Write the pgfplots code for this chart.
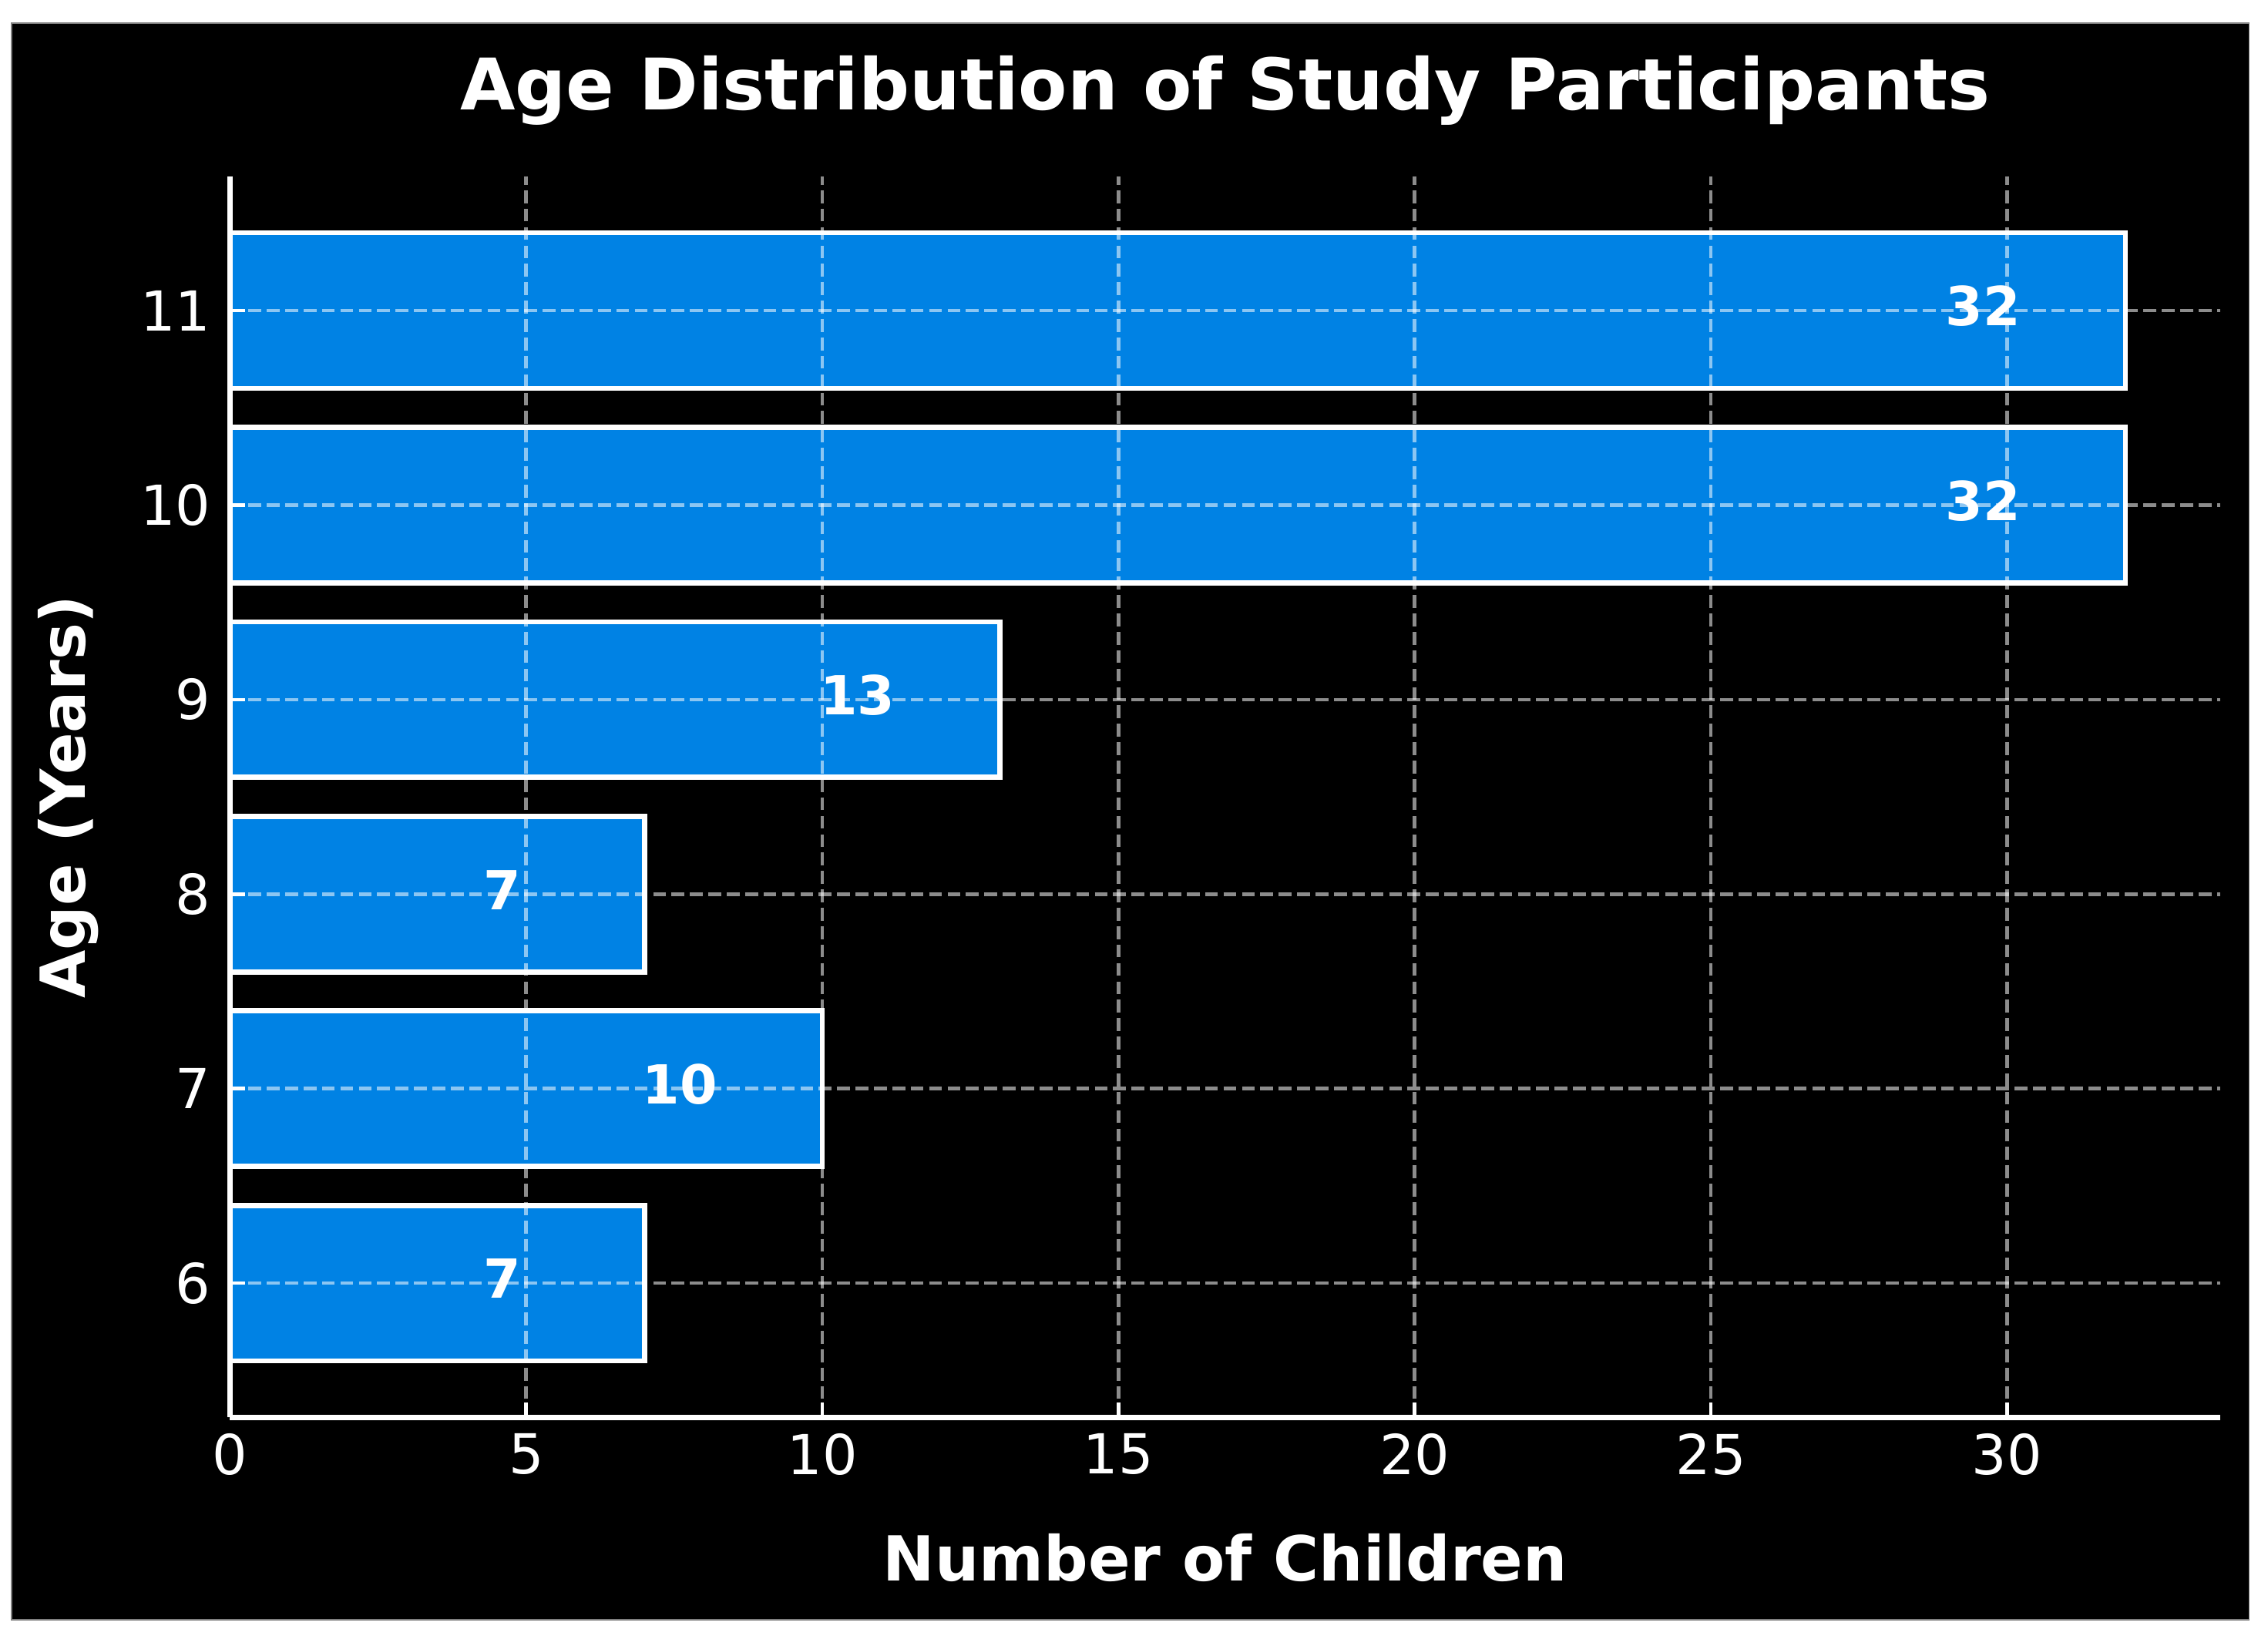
\documentclass[border=0pt]{standalone}
\usepackage{fontspec}
\setmainfont{DejaVu Sans}
\usepackage{pgfplots}
\pgfplotsset{compat=1.18}
\definecolor{barblue}{RGB}{0,130,228}
\begin{document}
\begin{tikzpicture}
% page and dark panel
\path[use as bounding box, fill=white] (0,0) rectangle (522.67pt,379.33pt);
\filldraw[fill=black, draw=gray, line width=0.3pt] (2.67pt,6pt) rectangle (518.3pt,374pt);
\begin{axis}[
  at={(53pt,52.67pt)}, anchor=south west,
  width=458.67pt, height=286pt, scale only axis,
  xbar, bar width=0.8,
  xmin=0, xmax=33.6, ymin=5.31, ymax=11.69,
  xtick={0,5,...,30}, ytick={6,7,...,11},
  axis lines*=left,
  axis line style={white, line width=1.2pt},
  tick align=inside, major tick length=3.5pt,
  tick style={white, line width=0.8pt},
  grid=major,
  major grid style={white, opacity=0.55, line width=0.8pt, dash pattern=on 2.96pt off 1.28pt},
  axis on top,
  /pgf/number format/assume math mode=true,
  ticklabel style={text=white, font=\fontsize{12.7}{15}\selectfont, inner sep=0pt},
  xticklabel style={yshift=-3.6pt},
  yticklabel style={xshift=-4.3pt},
  every axis title shift=0pt,
  title={Age Distribution of Study Participants},
  title style={at={(axis description cs:0.5,1.0535)}, anchor=base, inner sep=0pt,
    text=white, font=\bfseries\fontsize{16.4}{19}\selectfont},
  xlabel={Number of Children},
  xlabel style={at={(axis description cs:0.5,-0.1318)}, anchor=base, inner sep=0pt,
    text=white, font=\bfseries\fontsize{14.3}{17}\selectfont},
  ylabel={Age (Years)},
  ylabel style={at={(axis description cs:-0.0726,0.5)}, anchor=base, inner sep=0pt,
    text=white, font=\bfseries\fontsize{14.3}{17}\selectfont},
  point meta=x,
  nodes near coords={\pgfmathprintnumber[assume math mode=true]{\pgfplotspointmeta}},
  every node near coord/.append style={anchor=center, xshift=-32.8pt, yshift=1pt,
    text=white, font=\bfseries\fontsize{12.4}{15}\selectfont},
]
\addplot[fill=barblue, draw=white, line width=1.2pt] coordinates {
(7,6)
(10,7)
(7,8)
(13,9)
(32,10)
(32,11)
};
\end{axis}
\end{tikzpicture}
\end{document}
